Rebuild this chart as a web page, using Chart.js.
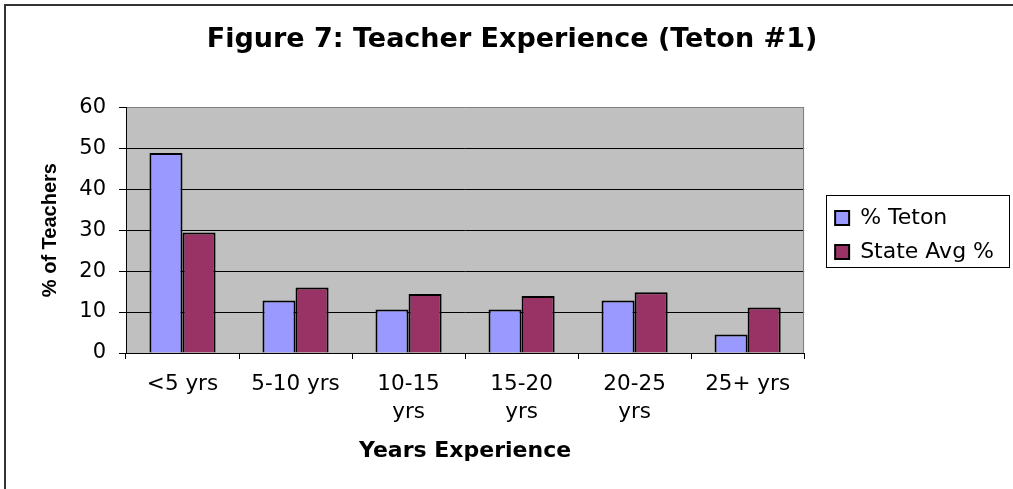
<!DOCTYPE html>
<html>
<head>
<meta charset="utf-8">
<script src="https://cdn.jsdelivr.net/npm/chart.js@4.4.0/dist/chart.umd.min.js"></script>
<style>
  html, body { margin: 0; padding: 0; background: #fff; }
</style>
</head>
<body>
<canvas id="myChart" width="1013" height="489"></canvas>
<script>
// values
const categories = ['<5 yrs', '5-10 yrs', ['10-15', 'yrs'], ['15-20', 'yrs'], ['20-25', 'yrs'], '25+ yrs'];
const tetonPct = [48.8, 12.8, 10.6, 10.6, 12.8, 4.5];
const stateAvgPct = [29.4, 16.0, 14.4, 13.9, 14.8, 11.1];
const yMin = 0;
const yMax = 60;
const yStep = 10;

const chartColors = {
  teton: '#9999FF',
  state: '#993366',
  plot: '#C0C0C0',
  edge: '#808080',
  ink: '#000000'
};

const FONT = 'DejaVu Sans';

// white page, cropped frame on top/left, grey plot area
const framePlugin = {
  id: 'frame',
  beforeDraw(chart) {
    const {ctx, width, height, chartArea: a} = chart;
    ctx.save();
    ctx.fillStyle = '#fff';
    ctx.fillRect(0, 0, width, height);
    ctx.strokeStyle = '#333';
    ctx.lineWidth = 2;
    ctx.beginPath();
    ctx.moveTo(5, height);
    ctx.lineTo(5, 5);
    ctx.lineTo(width + 2, 5);
    ctx.stroke();
    ctx.fillStyle = chartColors.plot;
    ctx.fillRect(a.left, a.top, a.right - a.left, a.bottom - a.top);
    ctx.restore();
  },
  beforeDatasetsDraw(chart) {
    const {ctx, chartArea: a} = chart;
    ctx.save();
    ctx.strokeStyle = chartColors.edge;
    ctx.lineWidth = 1;
    ctx.beginPath();
    ctx.moveTo(Math.round(a.right) - 0.5, a.top);
    ctx.lineTo(Math.round(a.right) - 0.5, a.bottom);
    ctx.stroke();
    ctx.restore();
  },
  afterDraw(chart) {
    // box round the legend
    const hb = chart.legend.legendHitBoxes;
    if (!hb || !hb.length) return;
    const {ctx} = chart;
    const first = hb[0], last = hb[hb.length - 1];
    const x1 = first.left - 9;
    const x2 = Math.max(...hb.map(h => h.left + h.width)) + 15;
    const y1 = first.top - 12;
    const y2 = last.top + last.height + 4;
    ctx.save();
    ctx.strokeStyle = chartColors.ink;
    ctx.lineWidth = 1;
    ctx.strokeRect(Math.round(x1) + 0.5, Math.round(y1) + 0.5, Math.round(x2 - x1), Math.round(y2 - y1));
    ctx.restore();
  }
};

var ctx = document.getElementById('myChart').getContext('2d');
var myChart = new Chart(ctx, {
  type: 'bar',
  data: {
    labels: categories,
    datasets: [{
      label: '% Teton',
      data: tetonPct,
      backgroundColor: chartColors.teton,
      borderColor: chartColors.ink,
      borderWidth: 2
    }, {
      label: 'State Avg %',
      data: stateAvgPct,
      backgroundColor: chartColors.state,
      borderColor: chartColors.ink,
      borderWidth: 2
    }]
  },
  options: {
    responsive: false,
    animation: false,
    events: [],
    devicePixelRatio: 1,
    categoryPercentage: 0.585,
    barPercentage: 1.0,
    layout: {
      padding: { left: 20, right: 9, top: 0, bottom: 10 }
    },
    scales: {
      x: {
        grid: {
          display: true,
          drawOnChartArea: false,
          drawTicks: true,
          tickLength: 6,
          tickColor: chartColors.ink,
          offset: true
        },
        border: { color: chartColors.ink, width: 1 },
        ticks: {
          font: { family: FONT, size: 21.5, lineHeight: 1.3 },
          color: chartColors.ink,
          padding: 11,
          maxRotation: 0,
          autoSkip: false
        },
        title: {
          display: true,
          text: 'Years Experience',
          font: { family: FONT, size: 22, weight: 'bold' },
          color: chartColors.ink,
          padding: { top: 0, bottom: 15 }
        },
        afterFit(s) { s.height = 126; }
      },
      y: {
        min: yMin,
        max: yMax,
        ticks: {
          stepSize: yStep,
          font: { family: FONT, size: 21 },
          color: chartColors.ink,
          padding: 13
        },
        grid: {
          color: c => (c.tick && c.tick.value === yMax) ? chartColors.edge : chartColors.ink,
          tickColor: chartColors.ink,
          tickLength: 7,
          lineWidth: 1
        },
        border: { color: chartColors.ink, width: 1 },
        title: {
          display: true,
          text: '% of Teachers',
          font: { family: 'Liberation Sans', size: 20, weight: 'bold' },
          color: chartColors.ink,
          padding: { top: 18, bottom: 0 }
        },
        afterFit(s) { s.width = 106; }
      },
      gap: {
        type: 'linear',
        position: 'right',
        display: true,
        grid: { display: false },
        border: { display: false },
        ticks: { display: false },
        afterFit(s) { s.width = 19; }
      }
    },
    plugins: {
      title: {
        display: true,
        text: 'Figure 7: Teacher Experience (Teton #1)',
        font: { family: FONT, size: 27, weight: 'bold' },
        color: chartColors.ink,
        padding: { top: 24, bottom: 50.8 }
      },
      legend: {
        display: true,
        position: 'right',
        fullSize: false,
        maxWidth: 260,
        title: {
          display: true,
          text: ' ',
          font: { size: 1, lineHeight: 1 },
          padding: 4.5
        },
        labels: {
          font: { family: FONT, size: 22 },
          color: chartColors.ink,
          boxWidth: 14,
          boxHeight: 14,
          padding: 12
        }
      },
      tooltip: { enabled: false }
    }
  },
  plugins: [framePlugin]
});
</script>
</body>
</html>
